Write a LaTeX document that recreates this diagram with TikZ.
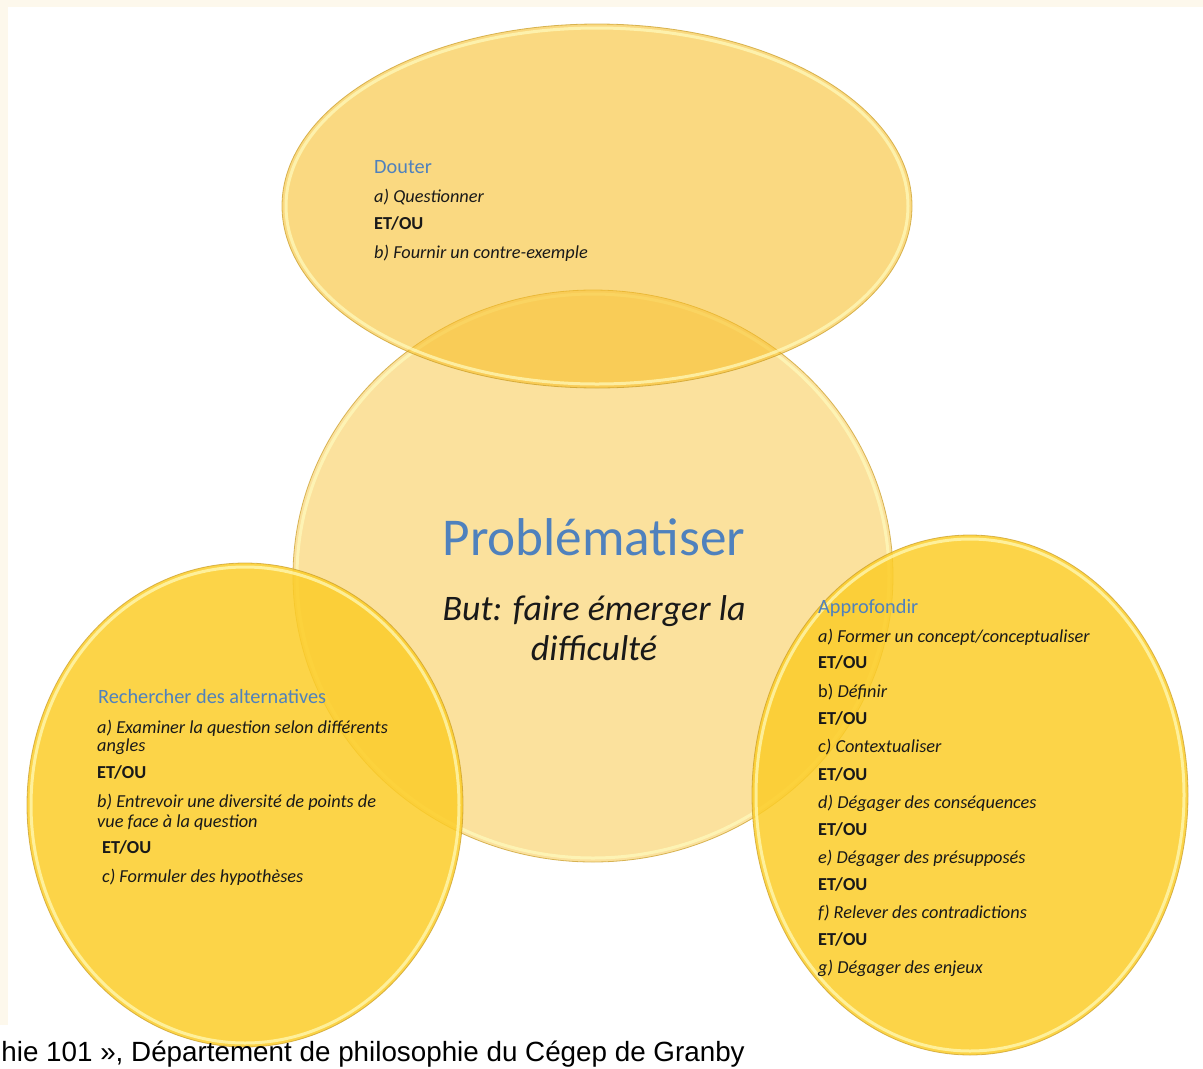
\documentclass[tikz,border=0pt]{standalone}
\usepackage{fontspec}
\setmainfont{Carlito}
\newfontfamily\legendefont{Liberation Sans}

\definecolor{creme}{RGB}{253,248,236}
\definecolor{orpale}{RGB}{248,190,38}
\definecolor{orvif}{RGB}{252,205,40}
\definecolor{orbord}{RGB}{200,155,35}
\definecolor{bleutitre}{RGB}{79,129,189}
\definecolor{encre}{RGB}{25,25,25}

\tikzset{
  bulle/.style={fill=#1},
  reflet/.style={draw=yellow!25, line width=3pt, draw opacity=.7},
  contour/.style={draw=orbord, line width=.8pt, draw opacity=.7},
  liste/.style={anchor=base west, inner sep=0pt, text=encre,
    font=\fontsize{18.3}{22}\selectfont},
  titre/.style={liste, text=bleutitre, font=\fontsize{20.3}{24}\selectfont}
}

\begin{document}
\begin{tikzpicture}[x=1pt,y=-1pt]
    \clip (0,0) rectangle (1203,1069);
    \fill[white] (0,0) rectangle (1203,1069);
    \fill[creme] (0,0) rectangle (1203,7);
    \fill[creme] (0,0) rectangle (8,1025);

    \coordinate (haut) at (597,206);
    \coordinate (centre) at (593,576);
    \coordinate (gauche) at (245,805);
    \coordinate (droite) at (970,795);

    % les quatre bulles
    \fill[bulle=orpale, fill opacity=.45] (centre) ellipse [x radius=300, y radius=286];
    \draw[reflet] (centre) ellipse [x radius=296, y radius=282];
    \draw[contour] (centre) ellipse [x radius=300, y radius=286];

    \fill[bulle=orpale, fill opacity=.58] (haut) ellipse [x radius=315, y radius=182];
    \draw[reflet] (haut) ellipse [x radius=311, y radius=178];
    \draw[contour] (haut) ellipse [x radius=315, y radius=182];

    \fill[bulle=orvif, fill opacity=.85] (gauche) ellipse [x radius=218, y radius=242];
    \draw[reflet] (gauche) ellipse [x radius=214, y radius=238];
    \draw[contour] (gauche) ellipse [x radius=218, y radius=242];

    \fill[bulle=orvif, fill opacity=.85] (droite) ellipse [x radius=218, y radius=260];
    \draw[reflet] (droite) ellipse [x radius=214, y radius=256];
    \draw[contour] (droite) ellipse [x radius=218, y radius=260];

    % centre
    \node[anchor=base, text=bleutitre, font=\fontsize{53.2}{60}\selectfont] (probleme) at (594,555) {Problématiser};
    \node[anchor=base, text=encre, font=\fontsize{35.9}{40}\selectfont\itshape] (but) at (594,620) {But: faire émerger la};
    \node[anchor=base, text=encre, font=\fontsize{35.9}{40}\selectfont\itshape] (difficulte) at (594,660) {difficulté};

    % Douter
    \node[titre] (douter) at (374,173) {Douter};
    \foreach \y/\ligne [count=\i] in {202/{\textit{a) Questionner}}, 229/{\textbf{ET/OU}},
        258/{\textit{b) Fournir un contre-exemple}}}
      \node[liste] (douter-\i) at (374,\y) {\ligne};

    % Rechercher des alternatives
    \node[titre] (alternatives) at (98,703) {Rechercher des alternatives};
    \foreach \x/\y/\ligne [count=\i] in {97/733/{\textit{a) Examiner la question selon différents}},
        97/751/{\textit{angles}}, 97/778/{\textbf{ET/OU}},
        97/807/{\textit{b) Entrevoir une diversité de points de}},
        97/827/{\textit{vue face à la question}}, 102/853/{\textbf{ET/OU}},
        102/882/{\textit{c) Formuler des hypothèses}}}
      \node[liste] (alternatives-\i) at (\x,\y) {\ligne};

    % Approfondir
    \node[titre] (approfondir) at (818,613) {Approfondir};
    \foreach \y/\ligne [count=\i] in {642/{\textit{a) Former un concept/conceptualiser}},
        668/{\textbf{ET/OU}}, 697/{b) \textit{Définir}}, 724/{\textbf{ET/OU}},
        752/{\textit{c) Contextualiser}}, 780/{\textbf{ET/OU}},
        808/{\textit{d) Dégager des conséquences}}, 835/{\textbf{ET/OU}},
        863/{\textit{e) Dégager des présupposés}}, 890/{\textbf{ET/OU}},
        918/{\textit{f) Relever des contradictions}}, 945/{\textbf{ET/OU}},
        973/{\textit{g) Dégager des enjeux}}}
      \node[liste] (approfondir-\i) at (818,\y) {\ligne};

    \node[anchor=base east, inner sep=0pt, text=black, font=\legendefont\fontsize{27.8}{32}\selectfont] (source) at (745,1061) {hie 101 », Département de philosophie du Cégep de Granby};
  \end{tikzpicture}
\end{document}
